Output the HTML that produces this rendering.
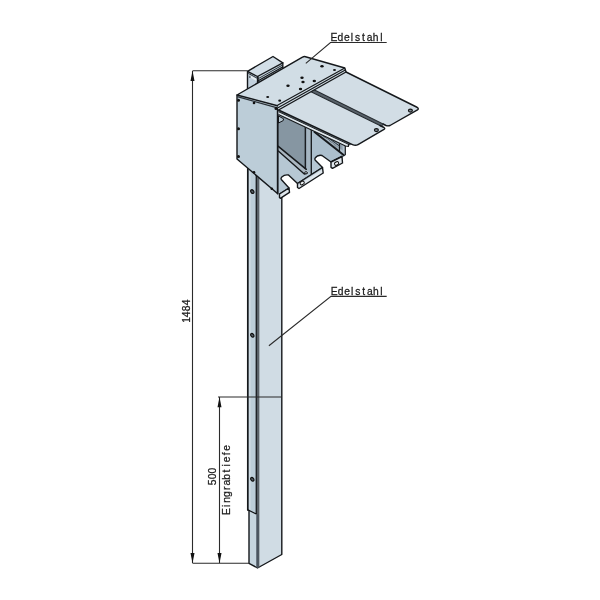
<!DOCTYPE html>
<html>
<head>
<meta charset="utf-8">
<title>Edelstahl</title>
<style>
html,body{margin:0;padding:0;background:#fff;}
body{width:600px;height:600px;overflow:hidden;}
svg{display:block;}
text{font-family:"Liberation Sans",sans-serif;font-size:10.3px;fill:#1a1a1a;stroke:#1a1a1a;stroke-width:0.25px;}
.l{stroke:#15181b;stroke-width:1.4;fill:none;stroke-linejoin:round;stroke-linecap:round;}
.t{stroke:#15181b;stroke-width:1;fill:none;stroke-linecap:butt;}
.d{stroke:#2a2a2a;stroke-width:1.1;fill:none;}
</style>
</head>
<body>
<svg width="600" height="600" viewBox="0 0 600 600">
<rect width="600" height="600" fill="#ffffff"/>

<!-- POST -->
<g id="post">
  <polygon points="248,168 257.7,176 257.7,568 249,563" fill="#c6d5df"/>
  <polygon points="257.7,176 281.7,196 281.7,554.5 257.7,568" fill="#d0dce4"/>
  
  <polygon points="248,168 256.5,175 256.5,514 248,510" fill="#bccdd8"/>
  <polygon points="249,169 250.6,170.3 250.6,511 249,510.3" fill="#cedbe3"/>
  <path class="l" d="M247.8,166 L247.8,510" style="stroke-width:1.7"/>
  <path class="l" d="M249,510.5 L249,563.3 L257.5,568 L281.8,554.5 L281.8,196"/>
  <path class="l" d="M256.3,175 L256.3,514 L248.2,510" style="stroke-width:1.3;stroke:#0c0e10"/>
  <path class="t" d="M258.1,177.3 L258.1,567.5" style="stroke-width:2.5;stroke:#5a6168"/>
  <path class="t" d="M257.5,514.5 L257.5,567.5" style="stroke-width:2.4;stroke:#4b5560"/>
  <ellipse cx="0" cy="0" rx="2" ry="1.4" transform="translate(252.3,191.60000000000002) rotate(50)" fill="#59636c" stroke="#111" stroke-width="1.2"/>
  <ellipse cx="0" cy="0" rx="2" ry="1.4" transform="translate(252.3,335.3) rotate(50)" fill="#59636c" stroke="#111" stroke-width="1.2"/>
  <ellipse cx="0" cy="0" rx="2" ry="1.4" transform="translate(252.3,479.3) rotate(50)" fill="#59636c" stroke="#111" stroke-width="1.2"/>
</g>

<!-- POST CAP -->
<g id="cap">
  <polygon points="247.5,71.3 257.5,76.5 257.5,84 247.5,89.5" fill="#c2d1dd"/>
  <polygon points="257.5,76.5 282.8,62.8 282.8,68 257.5,83.5" fill="#c9d7e2"/>
  <polygon points="247.5,71.3 273,56.5 282.8,62.8 257.5,76.5" fill="#d2dee7"/>
  <polygon points="250.3,75.6 256.6,79 256.6,81 250.3,77.6" fill="#e9eff3"/>
  <path class="l" d="M247.5,89 L247.5,71.3 L273,56.5 L282.8,62.8 L257.5,76.5 L247.5,71.3"/>
  <path class="l" d="M257.8,77 L257.8,83.3" style="stroke-width:1.9"/>
  <path class="l" d="M282.8,62.8 L282.8,67.5"/>
  <path class="t" d="M248.3,73.4 L257.5,78.4" style="stroke-width:1;stroke:#2a3036"/>
  <path class="t" d="M258,78.8 L282.6,65" style="stroke:#2c3338"/>
  <path class="l" d="M257.8,81 L282.6,67" />
  <path class="t" d="M249.9,75.8 L249.9,78" style="stroke:#2a3036"/>
</g>

<!-- INTERIOR -->
<g id="interior">
  <!-- opening silhouette / floor -->
  <path d="M277.5,108 L345,141 L345,156 L342,156.5 L331,162 L322,155.5 Q318,154.3 315.3,157.8 Q314.3,159 315.3,160.3 L322.5,167.5 L297.5,183.5 L288.5,175 Q284.8,174.3 281.8,177 Q280.5,178.3 281.3,179.5 L289,188 L279.5,194 L277.5,193.5 Z" fill="#b6c7d3"/>
  <!-- right inner region -->
  <polygon points="311.8,128 345,143 345,156 331,162 322,155.5 315.3,157.8 311.8,160" fill="#acbfcd"/>
  <polygon points="314,129 339.5,141.5 339.5,152" fill="#93a3b0"/>
  <!-- back wall dark -->
  <polygon points="278,112 305,125 305,169 278,146.3" fill="#8696a2"/>
  <!-- divider -->
  <polygon points="305.3,125 311.3,128 311.3,174 305.3,169" fill="#a6b6c2"/>
  <polygon points="305.3,125.5 306.8,126.3 306.8,170 305.3,169" fill="#8f9eaa"/>
  <polygon points="278.5,116 283.6,118.8 283.2,120.6 278.5,123" fill="#b5c5d0" stroke="#15181b" stroke-width="1"/>
  <!-- fold band under back wall -->
  <polygon points="278.3,146.3 306.3,169.3 307,173 304.3,174 278.3,151" fill="#aab6c0"/>
  <path class="l" d="M278.3,146.3 L306.3,169.3" style="stroke-width:1.5"/>
  <path class="l" d="M278.3,151 L304.3,174 L307,173" style="stroke-width:1.4"/>
  <path class="t" d="M305.3,126 L305.3,169 M311.3,129 L311.3,174" style="stroke-width:1.3"/>
  <!-- far wall diagonals -->
  <polygon points="339.3,143 345.3,145.5 345.3,154.7 343,156 339.3,152" fill="#b3c3cf"/>
  <polygon points="340,144.5 342.6,145.6 342.6,150.5 340,148.5" fill="#8f9fad"/>
  <path class="t" d="M339.5,143.5 L339.5,151 M345.3,145.5 L345.3,154.7 L343,156" style="stroke-width:1.2"/>
  <path class="t" d="M319,132.3 L339.5,149" style="stroke-width:1;stroke:#2d353c"/>
  <path class="l" d="M314.5,132 L343.3,154.8" style="stroke-width:1.9"/>
  <path class="t" d="M325,137.8 L339,148.6" style="stroke-width:0.8;stroke:#c6d3dc"/>
  <path class="t" d="M325,135.5 L339.5,146" style="stroke-width:1;stroke:#2d353c"/>
  <!-- floor outline -->
  <path class="l" d="M279.5,194 L289,188 L281.3,179.5 Q280.5,178.3 281.8,177 Q284.8,174.3 288.5,175 L297.5,183.5 L322.5,167.5 L315.3,160.3 Q314.3,159 315.3,157.8 Q318,154.3 322,155.5 L331,162 L342,156.5"/>
  <!-- tabs -->
  <polygon points="279.5,194 289,188 289.5,192.3 280.3,198.3 279.5,197.5" fill="#dfe7ed"/>
  <path class="l" d="M279.5,194 L289,188 L289.5,192.3 L280.3,198.3 L279.5,197.5 Z"/>
  <polygon points="297.5,183.5 322.5,167.5 323.2,173 299,188.5 297.5,187.5" fill="#dfe7ed"/>
  <polygon points="297.5,183.5 322.5,167.5 322.7,169.3 297.8,185.2" fill="#c3d1dc"/>
  <path class="l" d="M297.5,183.5 L322.5,167.5 L323.2,173 L299,188.5 L297.5,187.5 Z"/>
  <rect x="-2.1" y="-1.5" width="4.2" height="3" rx="1.3" transform="translate(302.2,183) rotate(-30)" fill="#eef2f5" stroke="#111" stroke-width="1"/>
  <polygon points="331,162 342,156.5 342.5,163 332.5,168.3 331,167.3" fill="#dfe7ed"/>
  <path class="l" d="M331,162 L342,156.5 L342.5,163 L332.5,168.3 L331,167.3 Z"/>
  <rect x="-2.1" y="-1.5" width="4.2" height="3" rx="1.3" transform="translate(336.6,163.5) rotate(-28)" fill="#eef2f5" stroke="#111" stroke-width="1"/>
  <ellipse cx="306" cy="172.8" rx="1.4" ry="1.1" fill="#c9d6df" stroke="#111" stroke-width="0.9"/>
</g>

<!-- BOX LEFT FACE -->
<g id="box">
  <polygon points="237,95 277.5,106.5 277.5,193.5 237,159" fill="#bccdd8"/>
  <path class="l" d="M237,95 L237,159 L277.5,193.5"/>
  <path class="l" d="M277.7,106.5 L277.7,193.5" style="stroke-width:1.8"/>
  <path class="t" d="M237.3,96.6 L277.3,107.9" style="stroke-width:1.1;stroke:#2a3036"/>
  <g fill="#111">
    <circle cx="238.5" cy="100.3" r="1.5"/>
    <circle cx="254" cy="103" r="1.3"/>
    <circle cx="276" cy="108.5" r="1.5"/>
    <circle cx="238.5" cy="128.7" r="1.5"/>
    <circle cx="238.5" cy="156.5" r="1.5"/>
    <circle cx="254" cy="172.3" r="1.3"/>
    <circle cx="271.8" cy="188.8" r="1.3"/>
  </g>
</g>

<!-- ROOF PANELS -->
<g id="roof">
  <!-- panel 2 thickness -->
  <polygon points="278.5,110 351,143.5 348.5,144.8 348.5,146.4 345.5,146 278.5,114.5" fill="#e1e9ee"/>
  <polygon points="278.5,110 352,144 350.5,145.2 278.5,111.7" fill="#6d7983"/>
  <path class="t" d="M278.5,111.7 L350,145" style="stroke-width:0.9"/>
  <path class="t" d="M278.5,114.4 L345.5,146 L348.5,146.4 L348.5,144" style="stroke-width:1.1;stroke-linejoin:round"/>
  <!-- gap -->
  <polygon points="313,89.3 384,124.8 382,126.5 310.5,91.5" fill="#59626a"/>
  <!-- panel 1 -->
  <path d="M346,72 L416.5,107 Q419.5,108.5 417.5,109.8 L390,125.5 Q388,126.3 386,125.5 L313,89.3 Z" fill="#d2dde5"/>
  <path class="l" d="M346,72 L416.5,107 Q419.5,108.5 417.5,109.8 L390,125.5 Q388,126.3 386,125.5 L383,124"/>
  <path class="t" d="M384,124.5 L313,89.3" style="stroke-width:1.1;stroke:#22282d"/>
  <!-- panel 2 -->
  <path d="M310.5,91.5 L381,126 L384,127.5 Q385.5,128.4 384,129.4 L358,144.6 Q355.5,146 352.5,144.6 L278.5,110 Z" fill="#d2dde5"/>
  <path class="t" d="M310.5,91.5 L381,126" style="stroke-width:1.1;stroke:#22282d"/>
  <path class="l" d="M380,125.5 L384,127.5 Q385.5,128.4 384,129.4 L358,144.6 Q355.5,146 352.5,144.6 L278.5,110"/>
  <ellipse cx="410.4" cy="110.6" rx="2" ry="1.5" fill="#7b8790" stroke="#111" stroke-width="1.1"/>
  <ellipse cx="376.4" cy="130.1" rx="2" ry="1.5" fill="#7b8790" stroke="#111" stroke-width="1.1"/>
</g>

<!-- TOP PLATE -->
<g id="top">
  <path d="M237,95 L302.5,57.1 Q304,56.3 305.5,56.7 L344.8,68 L346,72 L278.5,110 L277.5,106.5 Z" fill="#d1dde5"/>
  <path class="l" d="M277.5,105.8 L237,95 L302.5,57.1 Q304,56.3 305.5,56.7 L344.8,68 L346,72 L278.5,110"/>
  <path class="t" d="M277.5,105.3 L344.8,68 M278,107.8 L345.3,70" style="stroke-width:1.15"/>
  <g fill="#111">
    <ellipse cx="322" cy="66.3" rx="1.7" ry="1.2"/>
    <ellipse cx="302" cy="77.8" rx="1.7" ry="1.2"/>
    <ellipse cx="303" cy="82" rx="1.7" ry="1.2"/>
    <ellipse cx="314.3" cy="81" rx="1.7" ry="1.2"/>
    <ellipse cx="288" cy="85.8" rx="1.7" ry="1.2"/>
    <ellipse cx="300.5" cy="89" rx="1.7" ry="1.2"/>
    <ellipse cx="279.7" cy="100.7" rx="1.5" ry="1.1"/>
    <ellipse cx="267.7" cy="97" rx="1.5" ry="1.1"/>
    <ellipse cx="334.5" cy="70" rx="1.5" ry="1.1"/>
  </g>
</g>

<!-- DIMENSIONS -->
<g id="dims" style="opacity:0.995">
  <path class="d" d="M192.5,70.8 L247.5,70.8 M192.5,71 L192.5,563 M192.5,563.3 L249,563.3"/>
  <polygon points="192.5,70.8 190.5,81 194.5,81" fill="#111"/>
  <polygon points="192.5,563.3 190.5,553 194.5,553" fill="#111"/>
  <path class="d" d="M218,397 L281.7,397 M219.5,397 L219.5,563"/>
  <polygon points="219.5,397 217.5,407.2 221.5,407.2" fill="#111"/>
  <polygon points="219.5,563.3 217.5,553 221.5,553" fill="#111"/>
  <text text-anchor="middle" transform="translate(189.9,322.2) rotate(-90) scale(1,1.06)" x="2.3 7.9 13.7 19.7" y="0">1484</text>
  <text text-anchor="middle" transform="translate(216.3,484.9) rotate(-90) scale(1,1.06)" x="2.6 8.5 14.3" y="0">500</text>
  <text text-anchor="middle" transform="translate(229.6,514.5) rotate(-90) scale(1,1.0)" x="3.00 8.78 14.56 20.34 26.12 31.90 37.68 43.46 49.24 55.02 60.80 66.58" y="0">Eingrabtiefe</text>
  <path class="d" d="M386.7,42.5 L330.5,42.5 L305.8,63.3"/>
  <text text-anchor="middle" transform="translate(330.8,40.9) scale(1,1.03)" x="3.10 9.60 16.10 21.10 26.90 32.70 38.80 44.90 50.50" y="0">Edelstahl</text>
  <path class="d" d="M386.7,296.4 L331,296.4 L268.9,345.8"/>
  <text text-anchor="middle" transform="translate(331.0,295.0) scale(1,1.03)" x="3.10 9.60 16.10 21.10 26.90 32.70 38.80 44.90 50.50" y="0">Edelstahl</text>
</g>
</svg>
</body>
</html>
